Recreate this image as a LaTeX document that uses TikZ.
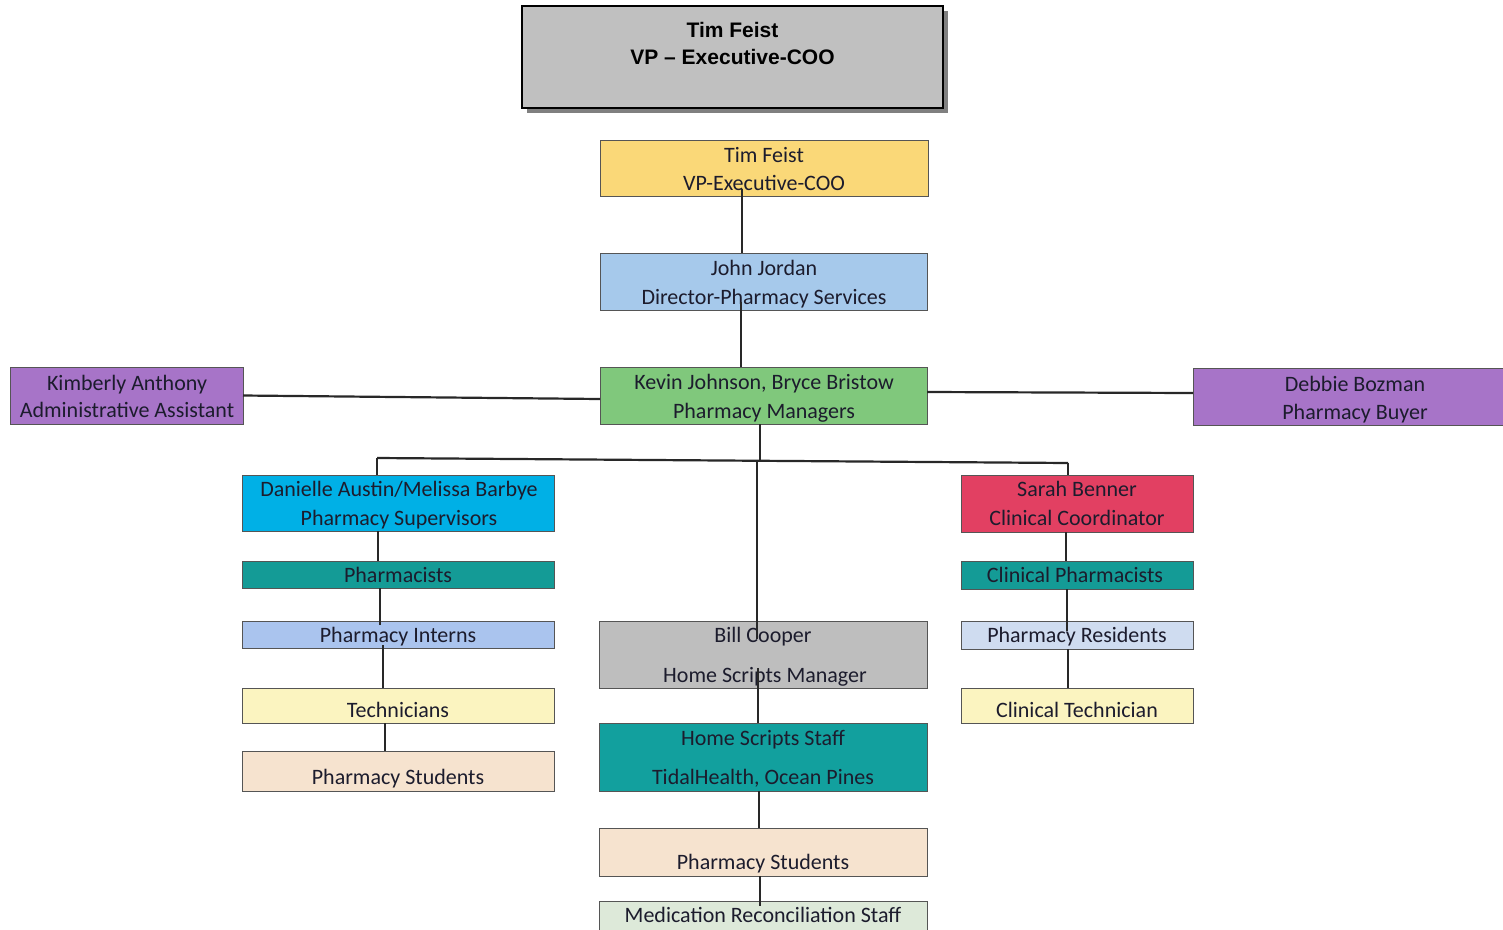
\documentclass[tikz,border=0pt]{standalone}
\usepackage{fontspec}
\setmainfont{Carlito}
\newfontfamily\arialfont{Liberation Sans}
\definecolor{cYellow}{RGB}{250,216,120}
\definecolor{cBlue}{RGB}{166,201,235}
\definecolor{cGreen}{RGB}{128,200,124}
\definecolor{cPurple}{RGB}{167,116,200}
\definecolor{cCyan}{RGB}{0,176,230}
\definecolor{cTeal}{RGB}{20,155,150}
\definecolor{cTealB}{RGB}{18,160,158}
\definecolor{cIntern}{RGB}{170,196,238}
\definecolor{cTech}{RGB}{251,244,192}
\definecolor{cStud}{RGB}{246,227,207}
\definecolor{cGray}{RGB}{190,190,190}
\definecolor{cTopGray}{RGB}{192,192,192}
\definecolor{cShadow}{RGB}{128,128,128}
\definecolor{cRed}{RGB}{226,64,98}
\definecolor{cResid}{RGB}{207,220,240}
\definecolor{cMedRec}{RGB}{221,233,217}
\definecolor{cText}{RGB}{28,28,45}
\definecolor{cBorder}{RGB}{85,85,85}
\definecolor{cLine}{RGB}{40,40,40}
\tikzset{
  orgbox/.style={draw=cBorder, line width=1pt, inner sep=0pt, outer sep=0pt},
  txt/.style={anchor=base, inner sep=0pt, text=cText, font=\fontsize{22pt}{26pt}\selectfont},
  toptxt/.style={anchor=base, inner sep=0pt, text=black, font=\arialfont\bfseries\fontsize{21pt}{25pt}\selectfont},
  conn/.style={draw=cLine, line width=2.2pt},
}
\newcommand\orgbox[6]{\node[orgbox, fill=#2, minimum width={(#5-#3)*1pt}, minimum height={(#6-#4)*1pt}] (#1) at ({(#3+#5)/2},{(#4+#6)/2}) {};}
\begin{document}
\begin{tikzpicture}[x=1pt,y=-1pt]
\clip (0,0) rectangle (1503,929);
\fill[white] (0,0) rectangle (1503,929);
% top box with shadow
\fill[cShadow] (527,11) rectangle (948,113);
\node[draw=black, line width=2pt, fill=cTopGray, inner sep=0pt, minimum width=421pt, minimum height=102pt] (top) at (732.5,57) {};
\node[toptxt] (topa) at (732.5,37.5) {Tim Feist};
\node[toptxt] (topb) at (732.5,64) {VP – Executive-COO};
% boxes
\orgbox{tf}{cYellow}{600}{140}{928}{196}
\orgbox{jj}{cBlue}{600}{253}{927}{310}
\orgbox{km}{cGreen}{600}{367}{927}{424}
\orgbox{ka}{cPurple}{10}{367}{243}{424}
\orgbox{db}{cPurple}{1193}{368}{1517}{425}
\orgbox{da}{cCyan}{242}{475}{554}{531}
\orgbox{ph}{cTeal}{242}{561}{554}{588}
\orgbox{pi}{cIntern}{242}{621}{554}{648}
\orgbox{te}{cTech}{242}{688}{554}{723}
\orgbox{ps}{cStud}{242}{751}{554}{791}
\orgbox{bc}{cGray}{599}{621}{927}{688}
\orgbox{hs}{cTealB}{599}{723}{927}{791}
\orgbox{cs}{cStud}{599}{828}{927}{876}
\orgbox{mr}{cMedRec}{599}{901}{927}{945}
\orgbox{sb}{cRed}{961}{475}{1193}{532}
\orgbox{cp}{cTeal}{961}{561}{1193}{589}
\orgbox{pr}{cResid}{961}{621}{1193}{649}
\orgbox{ct}{cTech}{961}{688}{1193}{723}
% texts
\node[txt] (tfa) at (764,162) {Tim Feist};
\node[txt] (tfb) at (764,190) {VP-Executive-COO};
\node[txt] (jja) at (764,275.5) {John Jordan};
\node[txt] (jjb) at (764,304) {Director-Pharmacy Services};
\node[txt] (kma) at (764,389.5) {Kevin Johnson, Bryce Bristow};
\node[txt] (kmb) at (764,418.5) {Pharmacy Managers};
\node[txt] (kaa) at (127,390) {Kimberly Anthony};
\node[txt] (kab) at (127,417.5) {Administrative Assistant};
\node[txt] (dba) at (1355,391) {Debbie Bozman};
\node[txt] (dbb) at (1355,419) {Pharmacy Buyer};
\node[txt] (daa) at (399,496.5) {Danielle Austin/Melissa Barbye};
\node[txt] (dab) at (399,525.5) {Pharmacy Supervisors};
\node[txt] (pht) at (398,582.5) {Pharmacists};
\node[txt] (pit) at (398,642.5) {Pharmacy Interns};
\node[txt] (tet) at (398,717.5) {Technicians};
\node[txt] (pst) at (398,784.5) {Pharmacy Students};
\node[txt] (bca) at (763,642.5) {Bill Cooper};
\node[txt] (bcb) at (765,682.5) {Home Scripts Manager};
\node[txt] (hsa) at (763,745.5) {Home Scripts Staff};
\node[txt] (hsb) at (763,784.5) {TidalHealth, Ocean Pines};
\node[txt] (cst) at (763,869.5) {Pharmacy Students};
\node[txt] (mrt) at (763,922.5) {Medication Reconciliation Staff};
\node[txt] (sba) at (1077,496.5) {Sarah Benner};
\node[txt] (sbb) at (1077,525.5) {Clinical Coordinator};
\node[txt] (cpt) at (1075,582.5) {Clinical Pharmacists};
\node[txt] (prt) at (1077,642.5) {Pharmacy Residents};
\node[txt] (ctt) at (1077,717.5) {Clinical Technician};
% column coordinates
\coordinate (x742) at (742,0);
\coordinate (x741) at (741,0);
\coordinate (x760) at (760,0);
\coordinate (x757) at (757,0);
\coordinate (x758) at (758,0);
\coordinate (x759) at (759,0);
\coordinate (x378) at (378,0);
\coordinate (x380) at (380,0);
\coordinate (x383) at (383,0);
\coordinate (x385) at (385,0);
\coordinate (x1066) at (1066,0);
\coordinate (x1067) at (1067,0);
\coordinate (x1068) at (1068,0);
\coordinate (busL) at (377,458);
\coordinate (busM) at (760,460);
\coordinate (busD) at (757,460);
\coordinate (busR) at (1068,463);
% connectors
\draw[conn, shorten <=-7pt] (tf.south -| x742) -- (jj.north -| x742);
\draw[conn, shorten <=-8pt] (jj.south -| x741) -- (km.north -| x741);
\draw[conn] (km.south -| x760) -- (busM);
\draw[conn] (busL) -- (busR);
\draw[conn] (busL) -- (da.north -| busL);
\draw[conn] (busR) -- (sb.north -| busR);
\draw[conn, shorten >=-18pt] (busD) -- (bc.north -| x757);
\draw[conn, shorten <=-20pt] (bc.south -| x758) -- (hs.north -| x758);
\draw[conn] (hs.south -| x759) -- (cs.north -| x759);
\draw[conn, shorten >=-5pt] (cs.south -| x760) -- (mr.north -| x760);
\draw[conn] ([yshift=0pt]ka.east) -- ([yshift=-3.5pt]km.west);
\draw[conn] ([yshift=3.5pt]km.east) -- ([yshift=3.5pt]db.west);
\draw[conn] (da.south -| x378) -- (ph.north -| x378);
\draw[conn, shorten >=-4pt] (ph.south -| x380) -- (pi.north -| x380);
\draw[conn, shorten <=-3pt] (pi.south -| x383) -- (te.north -| x383);
\draw[conn] (te.south -| x385) -- (ps.north -| x385);
\draw[conn] (sb.south -| x1066) -- (cp.north -| x1066);
\draw[conn, shorten >=-10pt] (cp.south -| x1067) -- (pr.north -| x1067);
\draw[conn] (pr.south -| x1068) -- (ct.north -| x1068);
\end{tikzpicture}
\end{document}
